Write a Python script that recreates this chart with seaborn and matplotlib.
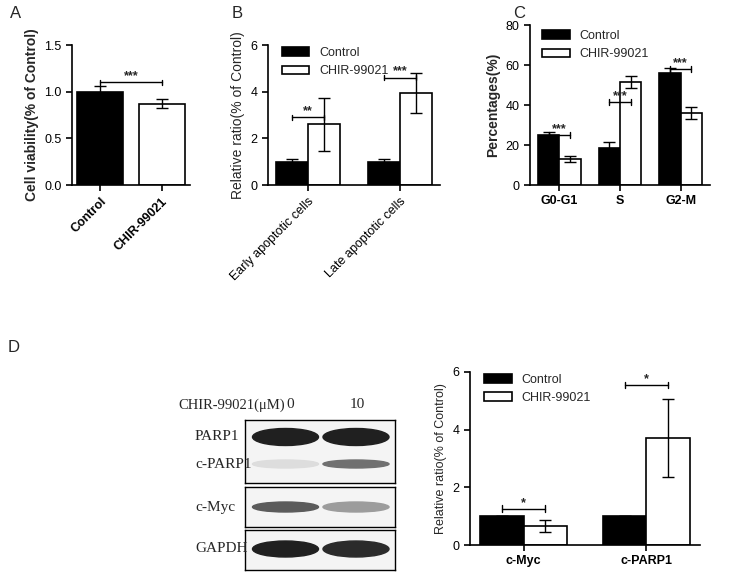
import matplotlib
matplotlib.use("Agg")
import matplotlib.pyplot as plt
import seaborn as sns
import pandas as pd
import numpy as np
from matplotlib.patches import Ellipse

sns.set_theme(style="ticks")
plt.rcParams['font.family'] = ['Arial', 'Liberation Sans', 'DejaVu Sans']

groups = ["Control", "CHIR-99021"]
a_vals = [1.0, 0.87]; a_err = [0.06, 0.05]
b_cats = ["Early apoptotic cells", "Late apoptotic cells"]
b_ctrl = [1.0, 1.0]; b_ctrl_err = [0.12, 0.1]
b_chir = [2.6, 3.95]; b_chir_err = [1.15, 0.85]
c_cats = ["G0-G1", "S", "G2-M"]
c_ctrl = [25, 18.5, 56]; c_ctrl_err = [1.5, 3, 2.5]
c_chir = [13, 51.5, 36]; c_chir_err = [1.5, 3, 3]
d_cats = ["c-Myc", "c-PARP1"]
d_ctrl = [1.0, 1.0]; d_ctrl_err = [0, 0]
d_chir = [0.65, 3.72]; d_chir_err = [0.2, 1.35]
blot_rows = ["PARP1", "c-PARP1", "c-Myc", "GAPDH"]
blot_int = [[0.97, 0.97], [0.1, 0.6], [0.7, 0.4], [0.97, 0.92]]

W, H = 750, 573
fig = plt.figure(figsize=(7.5, 5.73), dpi=100)
def ax_at(x0, y0, x1, y1):
    return fig.add_axes([x0/W, 1-y1/H, (x1-x0)/W, (y1-y0)/H])

def style(ax):
    sns.despine(ax=ax)
    for s in ["left", "bottom"]:
        ax.spines[s].set_linewidth(1.2); ax.spines[s].set_color("black")
    ax.tick_params(colors="black", width=1.2, length=4, labelsize=9)

def bracket(ax, x0, x1, y, txt, dy):
    ax.plot([x0, x1], [y, y], color="black", lw=1)
    ax.plot([x0, x0], [y-dy, y+dy], color="black", lw=1)
    ax.plot([x1, x1], [y-dy, y+dy], color="black", lw=1)
    ax.text((x0+x1)/2, y, txt, ha="center", va="bottom", fontsize=9, fontweight="bold")

def grouped(ax, cats, ctrl, ce, chir, he, loc):
    df = pd.DataFrame({"cat": cats*2, "val": ctrl+chir,
                       "grp": ["Control"]*len(cats)+["CHIR-99021"]*len(cats)})
    sns.barplot(data=df, x="cat", y="val", hue="grp", palette=["black", "white"],
                edgecolor="black", linewidth=1.2, width=0.7, ax=ax, errorbar=None)
    n = len(cats)
    pos = [p.get_x()+p.get_width()/2 for p in ax.patches[:2*n]]
    ax.errorbar(pos[:n], ctrl, yerr=ce, fmt="none", ecolor="black", capsize=4, lw=1)
    ax.errorbar(pos[n:], chir, yerr=he, fmt="none", ecolor="black", capsize=4, lw=1)
    ax.legend(frameon=False, loc="upper left", bbox_to_anchor=loc, fontsize=9,
              handlelength=2.2, borderaxespad=0)
    ax.set_xlabel("")
    return pos

# A
ax = ax_at(72, 45, 190, 185)
dfa = pd.DataFrame({"g": groups, "v": a_vals})
sns.barplot(data=dfa, x="g", y="v", hue="g", palette=["black", "white"], edgecolor="black",
            linewidth=1.2, width=0.75, ax=ax, errorbar=None, legend=False)
ax.errorbar([0, 1], a_vals, yerr=a_err, fmt="none", ecolor="black", capsize=4, lw=1)
ax.set_ylim(0, 1.5); ax.set_yticks([0, 0.5, 1.0, 1.5])
ax.set_xlabel(""); ax.set_ylabel("Cell viability(% of Control)", fontsize=10, fontweight="bold")
ax.set_xticks([0, 1]); ax.set_xticklabels(groups, rotation=45, ha="right", rotation_mode="anchor", fontweight="bold")
style(ax)
bracket(ax, 0, 1, 1.1, "***", 0.03)
fig.text(10/W, 1-18/H, "A", fontsize=12)

# B
ax = ax_at(268, 45, 440, 185)
pos = grouped(ax, b_cats, b_ctrl, b_ctrl_err, b_chir, b_chir_err, (0.05, 1.02))
ax.set_ylim(0, 6); ax.set_yticks([0, 2, 4, 6])
ax.set_ylabel("Relative ratio(% of Control)", fontsize=10)
ax.set_xticks([0, 1]); ax.set_xticklabels(b_cats, rotation=45, ha="right", rotation_mode="anchor", fontsize=8)
style(ax)
bracket(ax, pos[0], pos[2], 2.9, "**", 0.12)
bracket(ax, pos[1], pos[3], 4.6, "***", 0.12)
fig.text(232/W, 1-18/H, "B", fontsize=12)

# C
ax = ax_at(530, 25, 710, 185)
pos = grouped(ax, c_cats, c_ctrl, c_ctrl_err, c_chir, c_chir_err, (0.04, 1.0))
ax.set_ylim(0, 80); ax.set_yticks([0, 20, 40, 60, 80])
ax.set_ylabel("Percentages(%)", fontsize=10, fontweight="bold")
ax.set_xticks([0, 1, 2]); ax.set_xticklabels(c_cats, fontweight="bold")
style(ax)
bracket(ax, pos[0], pos[3], 25, "***", 1.5)
bracket(ax, pos[1], pos[4], 41.5, "***", 1.5)
bracket(ax, pos[2], pos[5], 58, "***", 1.5)
fig.text(513/W, 1-18/H, "C", fontsize=12)

# D bars
ax = ax_at(470, 372, 700, 545)
pos = grouped(ax, d_cats, d_ctrl, d_ctrl_err, d_chir, d_chir_err, (0.04, 1.02))
ax.set_ylim(0, 6); ax.set_yticks([0, 2, 4, 6])
ax.set_ylabel("Relative ratio(% of Control)", fontsize=9)
ax.set_xticks([0, 1]); ax.set_xticklabels(d_cats, fontweight="bold")
style(ax)
bracket(ax, pos[0], pos[2], 1.25, "*", 0.12)
bracket(ax, pos[1], pos[3], 5.55, "*", 0.12)
fig.text(8/W, 1-352/H, "D", fontsize=12)

# D blot
serif = ["Times New Roman", "Liberation Serif", "DejaVu Serif"]
fig.text(178/W, 1-405/H, "CHIR-99021(μM)", family=serif, fontsize=10.5, va="center")
fig.text(290/W, 1-405/H, "0", family=serif, fontsize=11, ha="center", va="center")
fig.text(357/W, 1-405/H, "10", family=serif, fontsize=11, ha="center", va="center")
boxes = [(420, 483, [0, 1]), (487, 527, [2]), (530, 570, [3])]
ycent = {0: 437, 1: 464, 2: 507, 3: 549}
hts = {0: 17, 1: 8, 2: 10, 3: 16}
for (y0, y1, rows) in boxes:
    bax = ax_at(245, y0, 395, y1)
    bax.set_xlim(0, 1); bax.set_ylim(y1, y0)
    bax.set_xticks([]); bax.set_yticks([])
    for s in bax.spines.values(): s.set_color("black"); s.set_linewidth(1)
    bax.set_facecolor("#f4f4f4")
    for r in rows:
        for j, xc in enumerate([0.27, 0.74]):
            g = 1 - blot_int[r][j]
            bax.add_patch(Ellipse((xc, ycent[r]), 0.44, hts[r], color=str(0.1+0.85*g)))
        fig.text(195/W, 1-ycent[r]/H, blot_rows[r], family=serif, fontsize=11, va="center")
fig.savefig("out.png", dpi=100)
